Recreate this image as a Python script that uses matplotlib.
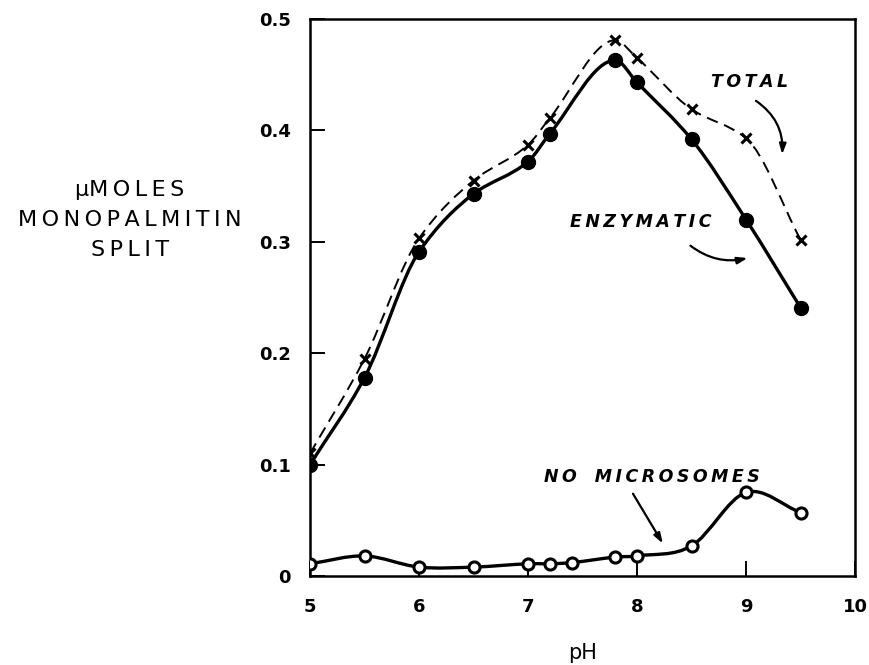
import numpy as np
import matplotlib
matplotlib.use('Agg')
import matplotlib.pyplot as plt
from matplotlib.path import Path
from matplotlib.patches import PathPatch

# values
ph_main = [5.0, 5.5, 6.0, 6.5, 7.0, 7.2, 7.8, 8.0, 8.5, 9.0, 9.5]
enzymatic = [0.100, 0.178, 0.291, 0.343, 0.372, 0.397, 0.463, 0.443, 0.392, 0.320, 0.241]
total = [0.110, 0.195, 0.303, 0.355, 0.387, 0.411, 0.481, 0.465, 0.419, 0.393, 0.302]

ph_blank = [5.0, 5.5, 6.0, 6.5, 7.0, 7.2, 7.4, 7.8, 8.0, 8.5, 9.0, 9.5]
no_microsomes = [0.011, 0.018, 0.008, 0.008, 0.011, 0.011, 0.012, 0.017, 0.018, 0.027, 0.075, 0.057]

x_ticks = [5, 6, 7, 8, 9, 10]
y_ticks = [0, 0.1, 0.2, 0.3, 0.4, 0.5]
y_ticklabels = ['0', '0.1', '0.2', '0.3', '0.4', '0.5']

TS = '\u2009'  # thin space, used to spread the lettering


def spread(word):
    return TS.join(word)


def slopes(x, y, monotone=True):
    h = np.diff(x)
    d = np.diff(y) / h
    m = np.zeros(len(x))
    m[0], m[-1] = d[0], d[-1]
    for i in range(1, len(x) - 1):
        if monotone:
            if d[i - 1] * d[i] <= 0:
                m[i] = 0.0
            else:
                w1 = 2 * h[i] + h[i - 1]
                w2 = h[i] + 2 * h[i - 1]
                m[i] = (w1 + w2) / (w1 / d[i - 1] + w2 / d[i])
        else:
            m[i] = (y[i + 1] - y[i - 1]) / (x[i + 1] - x[i - 1])
    return m


def smooth_path(xs, ys, monotone=True):
    # hermite curve through the points, handed to matplotlib as bezier segments
    x = np.asarray(xs, float)
    y = np.asarray(ys, float)
    m = slopes(x, y, monotone)
    verts = [(x[0], y[0])]
    codes = [Path.MOVETO]
    for i in range(len(x) - 1):
        h = x[i + 1] - x[i]
        verts += [(x[i] + h / 3, y[i] + m[i] * h / 3),
                  (x[i + 1] - h / 3, y[i + 1] - m[i + 1] * h / 3),
                  (x[i + 1], y[i + 1])]
        codes += [Path.CURVE4] * 3
    return Path(verts, codes)


def draw_curve(ax, xs, ys, monotone=True, **kw):
    patch = PathPatch(smooth_path(xs, ys, monotone), fill=False,
                      transform=ax.transData, **kw)
    ax.add_patch(patch)


fig = plt.figure(figsize=(8.69, 6.65), dpi=100)
ax = fig.add_axes([310 / 869, 1 - 576 / 665, 545 / 869, 557 / 665])

draw_curve(ax, ph_main, total, lw=1.4, ls=(0, (6, 3.5)), color='black', capstyle='butt')
draw_curve(ax, ph_main, enzymatic, lw=2.4, color='black')
draw_curve(ax, ph_blank, no_microsomes, monotone=False, lw=2.4, color='black')

ax.plot(ph_main, total, ls='none', marker='x', ms=6.5, mew=2.2, color='black', zorder=4)
ax.plot(ph_main, enzymatic, ls='none', marker='o', ms=10, color='black', zorder=4)
ax.plot(ph_blank, no_microsomes, ls='none', marker='o', ms=8, mew=2.2,
        mfc='white', mec='black', zorder=4)

ax.set_xlim(5, 10)
ax.set_ylim(0, 0.5)
ax.set_xticks(x_ticks)
ax.set_yticks(y_ticks)
ax.set_yticklabels(y_ticklabels)
ax.tick_params(direction='in', length=11, width=1.4, labelsize=13, pad=14)
ax.tick_params(axis='x', pad=16)
for lab in ax.get_xticklabels() + ax.get_yticklabels():
    lab.set_fontweight('bold')
for sp in ax.spines.values():
    sp.set_linewidth(1.8)

txt = dict(fontsize=12.5, fontweight='bold', fontstyle='italic', ha='center', va='center')
ax.text(9.03, 0.443, spread('TOTAL'), **txt)
ax.text(8.03, 0.318, spread('ENZYMATIC'), **txt)
ax.text(8.14, 0.089, spread('NO') + '   ' + spread('MICROSOMES'), **txt)

arrow = dict(arrowstyle='-|>,head_length=0.6,head_width=0.2', color='black', lw=1.6)
ax.annotate('', xy=(9.33, 0.376), xytext=(9.07, 0.428),
            arrowprops=dict(connectionstyle='arc3,rad=-0.3', **arrow))
ax.annotate('', xy=(9.04, 0.286), xytext=(8.47, 0.298),
            arrowprops=dict(connectionstyle='arc3,rad=0.25', **arrow))
ax.annotate('', xy=(8.25, 0.027), xytext=(7.95, 0.076),
            arrowprops=dict(connectionstyle='arc3,rad=0', **arrow))

fig.text(130 / 869, 1 - 220 / 665,
         '\u00b5' + spread('MOLES') + '\n' + spread('MONOPALMITIN') + '\n' + spread('SPLIT'),
         ha='center', va='center', fontsize=16, linespacing=1.65)
fig.text(583 / 869, 1 - 653 / 665, 'pH', ha='center', va='center', fontsize=15)

fig.savefig('out.png', dpi=100)
